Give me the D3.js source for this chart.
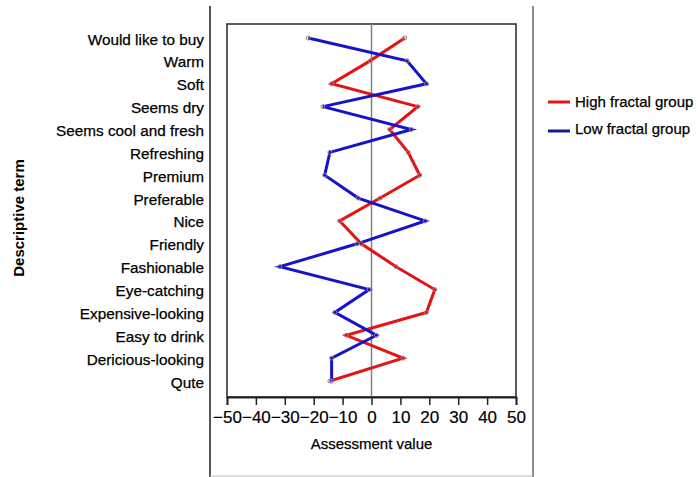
<!DOCTYPE html>
<html>
<head>
<meta charset="utf-8">
<script src="https://cdn.jsdelivr.net/npm/d3@7/dist/d3.min.js"></script>
<style>
  body { margin: 0; background: #fff; }
  svg { display: block; }
  text { font-family: "Liberation Sans", Arial, sans-serif; fill: #000; }
</style>
</head>
<body>
<div id="chart"></div>
<script>
// ---- data ----
const categories = [
  "Would like to buy", "Warm", "Soft", "Seems dry", "Seems cool and fresh",
  "Refreshing", "Premium", "Preferable", "Nice", "Friendly", "Fashionable",
  "Eye-catching", "Expensive-looking", "Easy to drink", "Dericious-looking", "Qute"
];
const highFractal = [11.5, -0.5, -13.8, 16, 6.3, 12.7, 16.7, 3, -11, -3.5, 8.5, 21.9, 19, -8.7, 10.9, -14.4];
const lowFractal  = [-21.9, 12.3, 19, -16.8, 13.8, -14.4, -16.2, -4.6, 18.6, -5, -31.7, -0.8, -12.7, 1.7, -13.8, -13.8];
const xTicks = [-50, -40, -30, -20, -10, 0, 10, 20, 30, 40, 50];
const seriesNames = ["High fractal group", "Low fractal group"];

const W = 700, H = 477;
const svg = d3.select("#chart").append("svg").attr("width", W).attr("height", H);

// outer frame
svg.append("line").attr("x1", 210).attr("x2", 210).attr("y1", 6).attr("y2", 477)
  .attr("stroke", "#555").attr("stroke-width", 2);
svg.append("line").attr("x1", 533).attr("x2", 533).attr("y1", 6).attr("y2", 477)
  .attr("stroke", "#666").attr("stroke-width", 1.5);
svg.append("line").attr("x1", 210).attr("x2", 533).attr("y1", 476).attr("y2", 476)
  .attr("stroke", "#bbb").attr("stroke-width", 1);

const x = d3.scaleLinear().domain([-50, 50]).range([227, 516]);
const y = d3.scalePoint().domain(categories).range([38, 381]);
const plotTop = 24, plotBottom = 397;

// plot box
svg.append("rect").attr("x", x(-50)).attr("y", plotTop)
  .attr("width", x(50) - x(-50)).attr("height", plotBottom - plotTop)
  .attr("fill", "none").attr("stroke", "#333").attr("stroke-width", 1.6);

// zero line
svg.append("line").attr("x1", x(0)).attr("x2", x(0)).attr("y1", plotTop).attr("y2", plotBottom)
  .attr("stroke", "#808080").attr("stroke-width", 1.5);

// x axis
const xAxis = d3.axisBottom(x).tickValues(xTicks).tickSize(8).tickPadding(6)
  .tickFormat(d => d < 0 ? "\u2212" + Math.abs(d) : String(d));
const gx = svg.append("g").attr("transform", `translate(0,${plotBottom})`).call(xAxis);
gx.select(".domain").attr("stroke", "#222").attr("stroke-width", 1.8);
gx.selectAll(".tick line").attr("stroke", "#222").attr("stroke-width", 1.5);
gx.selectAll(".tick text").attr("font-size", 17).attr("font-family", "Liberation Sans, Arial, sans-serif")
  .attr("fill", "#000").attr("stroke", "#000").attr("stroke-width", 0.2);

svg.append("text").attr("x", x(0)).attr("y", 449).attr("text-anchor", "middle")
  .attr("font-size", 15).attr("stroke", "#000").attr("stroke-width", 0.25).text("Assessment value");

// category labels
svg.append("g").selectAll("text").data(categories).join("text")
  .attr("x", 204).attr("y", d => y(d) + 1)
  .attr("text-anchor", "end").attr("dominant-baseline", "central")
  .attr("font-size", 15.3).attr("stroke", "#000").attr("stroke-width", 0.25).text(d => d);

// y title
svg.append("text").attr("transform", "translate(18,218) rotate(-90)")
  .attr("text-anchor", "middle").attr("dominant-baseline", "central")
  .attr("font-size", 15).attr("font-weight", "bold").text("Descriptive term");

// lines
const line = d3.line().x(d => x(d.v)).y(d => y(d.c));
const hiData = categories.map((c, i) => ({ c, v: highFractal[i] }));
const loData = categories.map((c, i) => ({ c, v: lowFractal[i] }));

svg.append("path").datum(hiData).attr("d", line)
  .attr("fill", "none").attr("stroke", "#e31414").attr("stroke-width", 3).attr("stroke-linejoin", "miter");
svg.append("path").datum(loData).attr("d", line)
  .attr("fill", "none").attr("stroke", "#1414c8").attr("stroke-width", 3).attr("stroke-linejoin", "miter");

// small markers
svg.append("g").selectAll("circle").data(hiData.concat(loData)).join("circle")
  .attr("cx", d => x(d.v)).attr("cy", d => y(d.c)).attr("r", 2)
  .attr("fill", "none").attr("stroke", "#9a7a8a").attr("stroke-width", 1);

// legend
const legendColors = ["#e31414", "#1a1a8c"];
const legendY = [102, 131];
const lg = svg.append("g");
seriesNames.forEach((name, i) => {
  lg.append("line").attr("x1", 548).attr("x2", 570).attr("y1", legendY[i]).attr("y2", legendY[i])
    .attr("stroke", legendColors[i]).attr("stroke-width", 3);
  lg.append("text").attr("x", 575).attr("y", legendY[i] - 1 + (i === 1 ? -2 : 0))
    .attr("dominant-baseline", "central").attr("font-size", 15)
    .attr("stroke", "#000").attr("stroke-width", 0.25).text(name);
});
</script>
</body>
</html>
